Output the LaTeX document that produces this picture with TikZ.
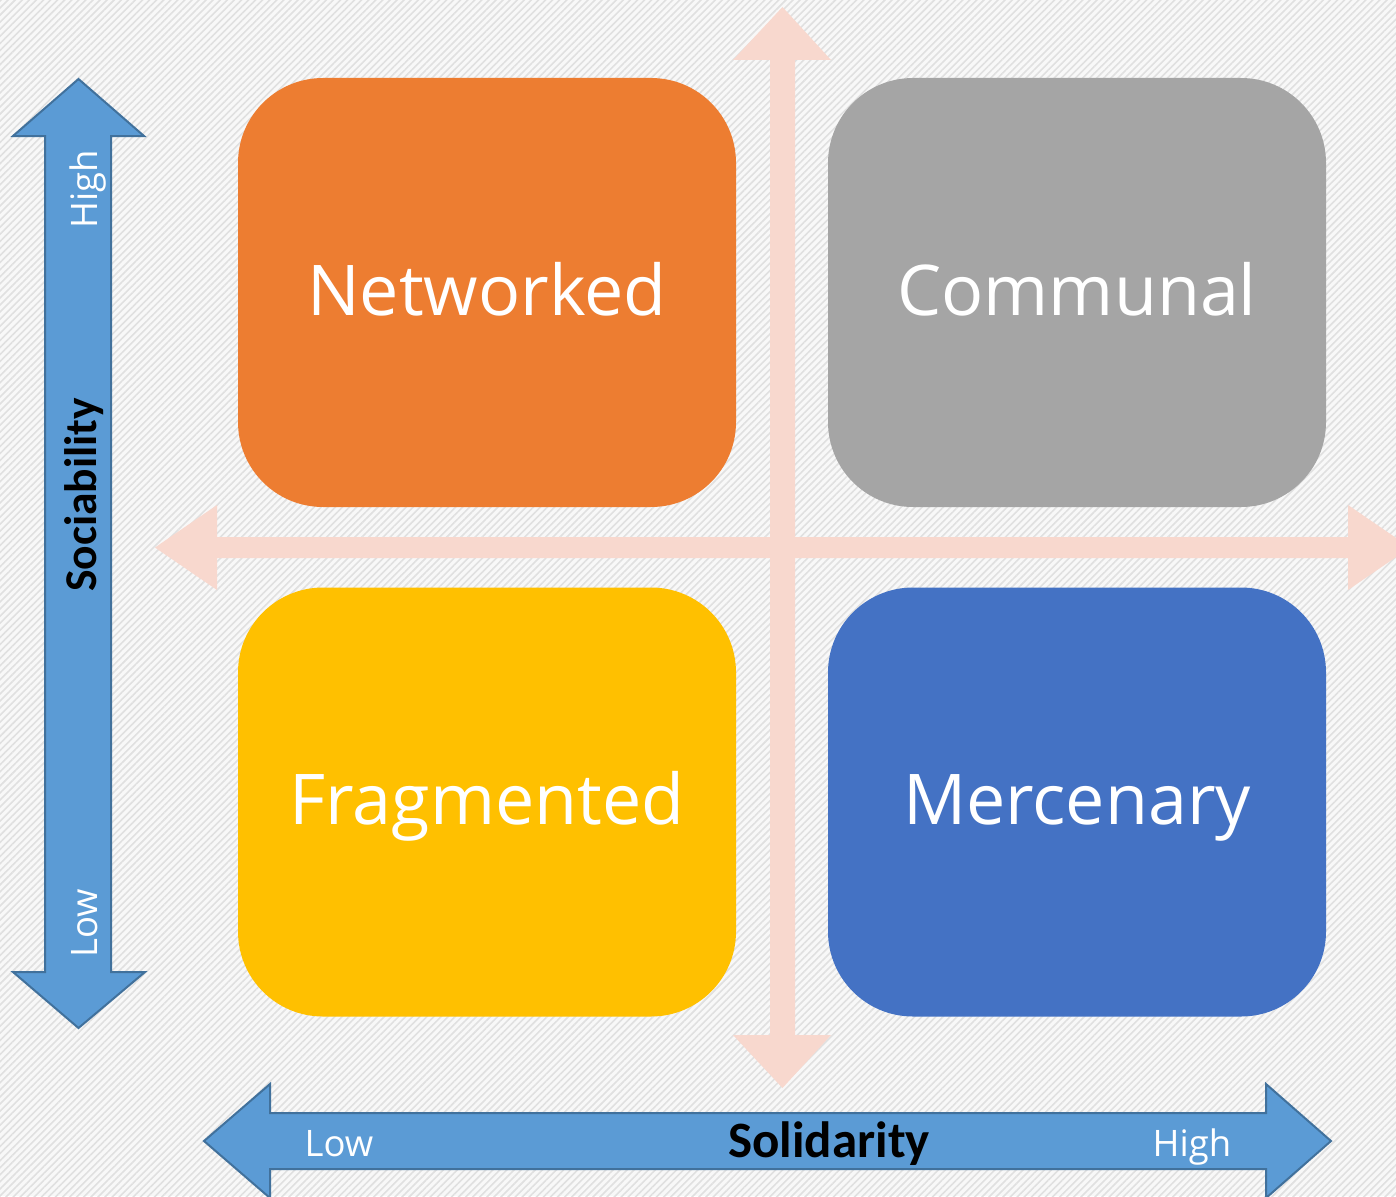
\documentclass[tikz,border=0pt]{standalone}
\usepackage{fontspec}
\setmainfont{Open Sans}
\newfontfamily\calfont{Carlito}
\usetikzlibrary{patterns.meta}
\definecolor{bgbase}{RGB}{248,248,248}
\definecolor{bgline}{RGB}{224,224,224}
\definecolor{crosspink}{RGB}{248,216,206}
\definecolor{axisblue}{RGB}{91,155,213}
\definecolor{axisedge}{RGB}{65,113,156}
\definecolor{qorange}{HTML}{ED7D31}
\definecolor{qgray}{HTML}{A5A5A5}
\definecolor{qgold}{HTML}{FFC000}
\definecolor{qblue}{HTML}{4472C4}
\tikzset{
  quad/.style={rounded corners=85pt, minimum width=498pt, minimum height=429pt,
    inner sep=0pt, text=white, text height=45pt, text depth=0pt,
    font=\fontsize{70}{84}\selectfont},
  axisarrow/.style={fill=axisblue, draw=axisedge, line width=2pt, line join=miter},
  axislabel/.style={text=white, inner sep=0pt, anchor=base, font=\fontsize{36.5}{44}\selectfont},
  axistitle/.style={text=black, inner sep=0pt, anchor=base, font=\calfont\bfseries\fontsize{51}{60}\selectfont}
}
\begin{document}
\begin{tikzpicture}[x=1pt,y=-1pt]
\useasboundingbox (0,0) rectangle (1396,1196);
\clip (0,0) rectangle (1396,1196);
\fill[bgbase] (0,0) rectangle (1396,1196);
\fill[pattern={Lines[angle=45,distance=5pt,line width=1.6pt]},pattern color=bgline] (0,0) rectangle (1396,1196);
% pink cross
\fill[crosspink] (782.5,7) -- (831,60) -- (795,60) -- (795,1035) -- (831,1035) -- (782.5,1088)
  -- (733,1035) -- (770,1035) -- (770,60) -- (733,60) -- cycle;
\fill[crosspink] (155,547.5) -- (217,505) -- (217,537) -- (1348,537) -- (1348,505) -- (1410,547.5)
  -- (1348,590) -- (1348,558) -- (217,558) -- (217,590) -- cycle;
% quadrants
\node[quad, fill=qorange] (net) at (487,292.5) {Networked};
\node[quad, fill=qgray] (com) at (1077,292.5) {Communal};
\node[quad, fill=qgold] (frag) at (487,802) {Fragmented};
\node[quad, fill=qblue] (merc) at (1077,802) {Mercenary};
% vertical axis arrow
\draw[axisarrow] (78.5,79) -- (144,136) -- (111,136) -- (111,972) -- (145,972) -- (78.5,1028)
  -- (13,972) -- (45,972) -- (45,136) -- (13,136) -- cycle;
\node[axislabel, rotate=90] (vhigh) at (97,189) {High};
\node[axislabel, rotate=90] (vlow) at (97,923) {Low};
\node[axistitle, rotate=90, font=\calfont\bfseries\fontsize{45.5}{54}\selectfont] (soc) at (96,495) {Sociability};
% horizontal axis arrow
\draw[axisarrow] (204,1141) -- (270,1084) -- (270,1113) -- (1266,1113) -- (1266,1084) -- (1331,1141)
  -- (1266,1198) -- (1266,1169) -- (270,1169) -- (270,1198) -- cycle;
\node[axislabel] (hlow) at (339,1156) {Low};
\node[axislabel] (hhigh) at (1192,1156) {High};
\node[axistitle] (sol) at (829,1157) {Solidarity};
\end{tikzpicture}
\end{document}
